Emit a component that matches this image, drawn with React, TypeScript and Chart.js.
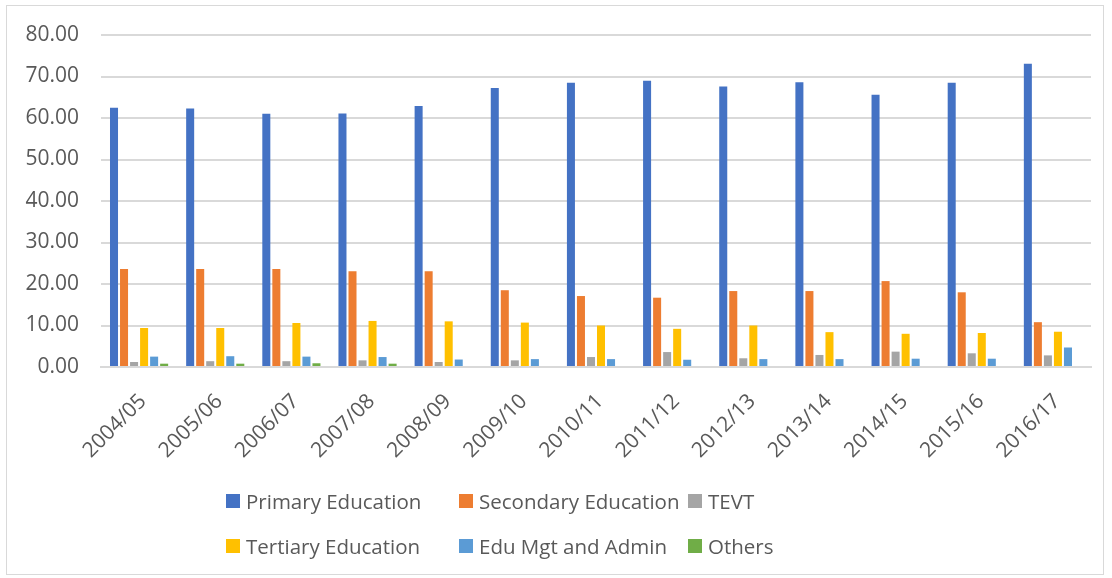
import React, { useEffect, useRef } from "react";
import { Chart, registerables } from "chart.js";

Chart.register(...registerables);

const categories = ["2004/05", "2005/06", "2006/07", "2007/08", "2008/09", "2009/10", "2010/11", "2011/12", "2012/13", "2013/14", "2014/15", "2015/16", "2016/17"];
const primary = [62.5, 62.3, 61.0, 61.1, 62.9, 67.2, 68.5, 69.0, 67.6, 68.6, 65.6, 68.5, 73.1];
const secondary = [23.6, 23.6, 23.6, 23.1, 23.1, 18.5, 17.1, 16.7, 18.3, 18.3, 20.7, 18.0, 10.8];
const tevt = [1.2, 1.4, 1.4, 1.6, 1.2, 1.6, 2.4, 3.6, 2.1, 2.9, 3.7, 3.3, 2.8];
const tertiary = [9.4, 9.4, 10.6, 11.1, 11.0, 10.7, 10.0, 9.2, 10.0, 8.4, 8.0, 8.2, 8.5];
const eduMgt = [2.5, 2.6, 2.5, 2.4, 1.8, 1.9, 1.9, 1.75, 1.9, 1.9, 2.0, 2.0, 4.7];
const others = [0.8, 0.8, 0.9, 0.8, 0, 0, 0, 0, 0, 0, 0, 0, 0];
const yTicks = [0, 10, 20, 30, 40, 50, 60, 70, 80];

const seriesNames = ["Primary Education", "Secondary Education", "TEVT", "Tertiary Education", "Edu Mgt and Admin", "Others"];
const seriesColors = ["#4472C4", "#ED7D31", "#A5A5A5", "#FFC000", "#5B9BD5", "#70AD47"];
const seriesData = [primary, secondary, tevt, tertiary, eduMgt, others];

const FONT = "'Open Sans', 'DejaVu Sans', sans-serif";

export default function App() {
  const ref = useRef<HTMLCanvasElement | null>(null);

  useEffect(() => {
    if (!ref.current) return;
    const chart = new Chart(ref.current, {
      type: "bar",
      data: {
        labels: categories,
        datasets: seriesNames.map((name, i) => ({
          label: name,
          data: seriesData[i],
          backgroundColor: seriesColors[i],
          borderWidth: 0,
          categoryPercentage: 0.79,
          barPercentage: 0.8,
        })),
      },
      options: {
        animation: false,
        responsive: false,
        maintainAspectRatio: false,
        layout: { padding: { top: 35, right: 21, left: 0, bottom: 0 } },
        plugins: {
          legend: { display: false },
          tooltip: { enabled: false },
        },
        scales: {
          x: {
            grid: { display: false, drawTicks: false },
            border: { display: true, color: "#d9d9d9", width: 2 },
            ticks: {
              color: "#595959",
              font: { family: FONT, size: 21 },
              minRotation: 45,
              maxRotation: 45,
              padding: 22,
              labelOffset: 4,
              autoSkip: false,
            },
            afterFit: (s: any) => {
              s.height = 211;
            },
          },
          y: {
            min: 0,
            max: 80,
            afterBuildTicks: (s: any) => {
              s.ticks = yTicks.map((v) => ({ value: v }));
            },
            grid: { color: "#d9d9d9", lineWidth: 2, drawTicks: false },
            border: { display: false },
            ticks: {
              color: "#595959",
              font: { family: FONT, size: 21 },
              padding: 22,
              callback: (v: any) => Number(v).toFixed(2),
            },
            afterFit: (s: any) => {
              s.width = 101;
            },
          },
        },
      },
    });
    return () => chart.destroy();
  }, []);

  const legendCols = [226, 459, 688];
  const legendRows = [501, 546];

  return (
    <div style={{ position: "absolute", left: 0, top: 0, width: 1112, height: 578, background: "#fff", overflow: "hidden" }}>
      <div style={{ position: "absolute", left: 6, top: 5, width: 1098, height: 570, border: "1px solid #d9d9d9", boxSizing: "border-box" }} />
      <canvas ref={ref} width={1112} height={578} style={{ position: "absolute", left: 0, top: 0, width: 1112, height: 578 }} />
      {seriesNames.map((name, i) => {
        const col = i % 3;
        const row = Math.floor(i / 3);
        return (
          <div
            key={name}
            style={{
              position: "absolute",
              left: legendCols[col],
              top: legendRows[row] - 15,
              height: 30,
              display: "flex",
              alignItems: "center",
              fontFamily: FONT,
              fontSize: 20.5,
              color: "#595959",
              whiteSpace: "nowrap",
            }}
          >
            <span style={{ display: "inline-block", width: 14, height: 14, background: seriesColors[i], marginRight: 6, flex: "none" }} />
            <span>{name}</span>
          </div>
        );
      })}
    </div>
  );
}
